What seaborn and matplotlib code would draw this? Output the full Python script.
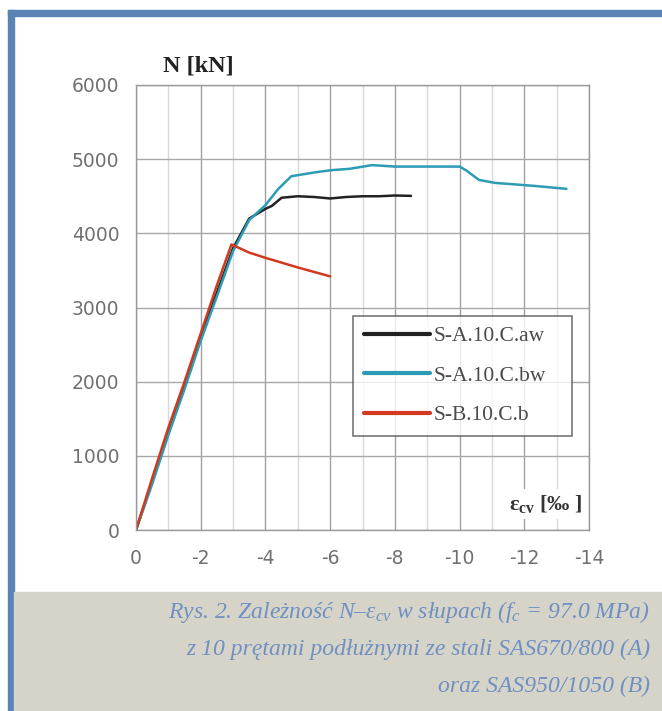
import matplotlib
matplotlib.use("Agg")
import matplotlib.pyplot as plt
import seaborn as sns
import pandas as pd
from matplotlib.patches import Rectangle
from matplotlib.ticker import MultipleLocator

# strain [per mille] and axial force [kN]
aw_eps = [0, -0.5, -1, -1.5, -2, -2.5, -3, -3.5, -4, -4.2, -4.5, -5, -5.5, -6, -6.5, -7, -7.5, -8, -8.5]
aw_n = [0, 650, 1320, 1950, 2600, 3200, 3800, 4200, 4330, 4370, 4480, 4500, 4490, 4470, 4490, 4500, 4500, 4510, 4505]

bw_eps = [0, -0.5, -1, -1.5, -2, -2.5, -3, -3.5, -4, -4.4, -4.8, -5.5, -6, -6.6, -7.3, -8, -9, -10, -10.2, -10.6, -11.1, -12.3, -13.3]
bw_n = [0, 620, 1280, 1900, 2550, 3150, 3760, 4180, 4380, 4600, 4770, 4820, 4850, 4870, 4920, 4900, 4900, 4900, 4850, 4720, 4680, 4640, 4600]

b_eps = [0, -0.5, -1, -1.5, -2, -2.5, -2.95, -3.5, -4, -5, -6]
b_n = [0, 700, 1380, 2000, 2650, 3300, 3850, 3740, 3670, 3540, 3420]

series = ["S-A.10.C.aw", "S-A.10.C.bw", "S-B.10.C.b"]
colors = ["#222222", "#2b9cb3", "#d13a1f"]

df = pd.concat([
    pd.DataFrame({"eps": aw_eps, "N": aw_n, "specimen": series[0]}),
    pd.DataFrame({"eps": bw_eps, "N": bw_n, "specimen": series[1]}),
    pd.DataFrame({"eps": b_eps, "N": b_n, "specimen": series[2]}),
])

sns.set_style("white")
plt.rcParams["font.family"] = ["Liberation Serif", "DejaVu Serif"]
plt.rcParams["axes.unicode_minus"] = False
plt.rcParams["mathtext.fontset"] = "custom"
plt.rcParams["mathtext.rm"] = "Liberation Serif:italic"
plt.rcParams["mathtext.it"] = "Liberation Serif:italic"
plt.rcParams["mathtext.bf"] = "Liberation Serif:bold"

fig = plt.figure(figsize=(6.62, 7.11), dpi=100)

# page decoration: blue frame and caption panel
border = "#5b84b6"
fig.patches.append(Rectangle((8 / 662, 0), 6 / 662, 1 - 10 / 711, transform=fig.transFigure,
                             color=border, zorder=0))
fig.patches.append(Rectangle((8 / 662, 1 - 16 / 711), 1, 6 / 711, transform=fig.transFigure,
                             color=border, zorder=0))
fig.patches.append(Rectangle((14 / 662, 0), 1, (711 - 592) / 711, transform=fig.transFigure,
                             color="#d6d4c8", zorder=0))

ax = fig.add_axes([136 / 662, (711 - 530) / 711, 453 / 662, 445 / 711])

sns.lineplot(data=df, x="eps", y="N", hue="specimen", palette=colors, sort=False,
             estimator=None, linewidth=1.8, ax=ax, legend=True)

ax.set_xlim(0, -14)
ax.set_ylim(0, 6000)
ax.xaxis.set_major_locator(MultipleLocator(2))
ax.xaxis.set_minor_locator(MultipleLocator(1))
ax.yaxis.set_major_locator(MultipleLocator(1000))
ax.grid(which="major", axis="x", color="#a0a0a0", linewidth=1.0)
ax.grid(which="minor", axis="x", color="#d8d8d8", linewidth=1.0)
ax.grid(which="major", axis="y", color="#a8a8a8", linewidth=1.0)
ax.set_axisbelow(True)
for s in ax.spines.values():
    s.set_color("#999999")
    s.set_linewidth(1.0)
ax.tick_params(which="major", color="#999999", labelcolor="#707070", labelsize=13.5)
ax.tick_params(axis="x", which="major", length=7, pad=7)
ax.tick_params(axis="y", which="major", length=8, pad=4)
ax.tick_params(which="minor", length=0)
for lbl in ax.get_xticklabels() + ax.get_yticklabels():
    lbl.set_family("DejaVu Sans")
ax.set_xlabel("")
ax.set_ylabel("")

ax.text(0.06, 1.02, "N [kN]", transform=ax.transAxes, ha="left", va="bottom",
        fontsize=17.5, fontweight="bold", color="#222222")
ax.text(0.985, 0.045, r"$\mathbf{ε_{cv}}$ [‰ ]", transform=ax.transAxes, ha="right", va="baseline",
        fontsize=16, fontweight="bold", color="#333333",
        bbox=dict(facecolor="white", edgecolor="none", pad=3))

leg = ax.legend(loc="lower left", bbox_to_anchor=(0.479, 0.211, 0.483, 0.268), mode="expand",
                fontsize=15.5, frameon=True, fancybox=False, handlelength=3.1,
                labelspacing=0.9, borderpad=0.5, handletextpad=0.15, borderaxespad=0)
leg.get_frame().set_edgecolor("#555555")
leg.get_frame().set_linewidth(1.2)
for h in leg.get_lines():
    h.set_linewidth(3)
for t in leg.get_texts():
    t.set_color("#4a4a4a")

cap = "#6f90c3"
capfont = dict(ha="right", va="baseline", fontsize=17, style="italic", color=cap,
               transform=fig.transFigure)
fig.text(650 / 662, 1 - 618 / 711, r"Rys. 2. Zależność N–ε$_{cv}$ w słupach (f$_c$ = 97.0 MPa)", **capfont)
fig.text(650 / 662, 1 - 655 / 711, "z 10 prętami podłużnymi ze stali SAS670/800 (A)", **capfont)
fig.text(650 / 662, 1 - 692 / 711, "oraz SAS950/1050 (B)", **capfont)

fig.savefig("out.png", dpi=100)
